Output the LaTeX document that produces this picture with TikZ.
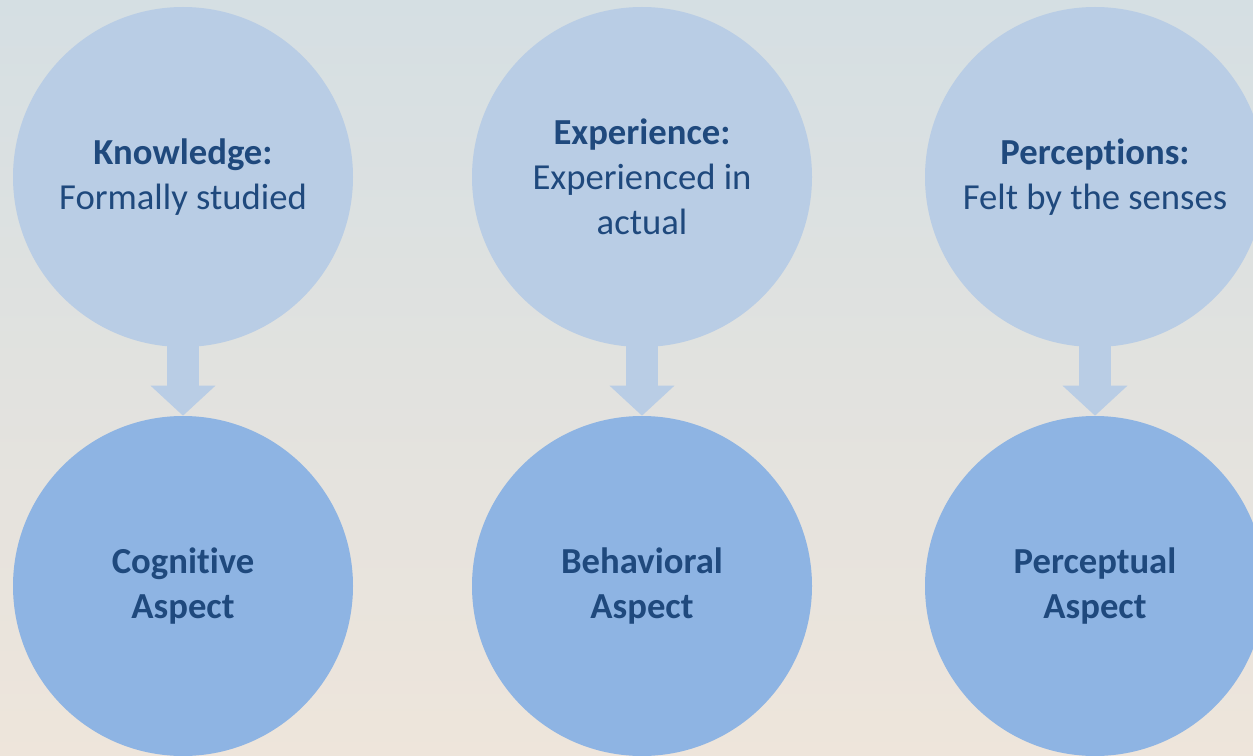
\documentclass[tikz,border=0pt]{standalone}
\usepackage{fontspec}
\setmainfont{Carlito}[RawFeature={-liga;-clig}]
\usepackage{tikz}
\usetikzlibrary{arrows.meta}
\definecolor{sky}{HTML}{D5DFE3}
\definecolor{sand}{HTML}{EEE5DB}
\definecolor{toplight}{HTML}{B9CDE5}
\definecolor{lowblue}{HTML}{8EB4E3}
\definecolor{ink}{HTML}{1F497D}
\def\bigtext{\fontsize{27.5}{33.75}\selectfont}

\begin{document}
\begin{tikzpicture}[x=0.75pt, y=-0.75pt,
	bubble/.style={circle, minimum size=255pt, inner sep=0pt, align=center, text=ink, font=\bigtext},
	upper/.style={bubble, fill=toplight},
	lower/.style={bubble, fill=lowblue, font=\bigtext\bfseries},
	down/.style={draw=toplight, line width=24pt, -{Triangle[width=47.25pt, length=22.5pt]}}]
	\useasboundingbox (0,0) rectangle (1253,756);
	\shade[top color=sky, middle color=sand!70!sky, bottom color=sand] (0,0) rectangle (1253,756);

	% arrows first, the circles hide the shafts
	\coordinate (k) at (183,177);
	\coordinate (e) at (642,177);
	\coordinate (p) at (1095,177);
	\node[lower] (cog) at (183,586) {Cognitive\\Aspect};
	\node[lower] (beh) at (642,586) {Behavioral\\Aspect};
	\node[lower] (per) at (1095,586) {Perceptual\\Aspect};
	\draw[down] (k) -- (cog.north);
	\draw[down] (e) -- (beh.north);
	\draw[down] (p) -- (per.north);

	\node[upper] (know) at (k) {\textbf{Knowledge:}\\Formally studied};
	\node[upper] (expe) at (e) {\textbf{Experience:}\\Experienced in\\actual};
	\node[upper] (perc) at (p) {\textbf{Perceptions:}\\Felt by the senses};
\end{tikzpicture}
\end{document}
